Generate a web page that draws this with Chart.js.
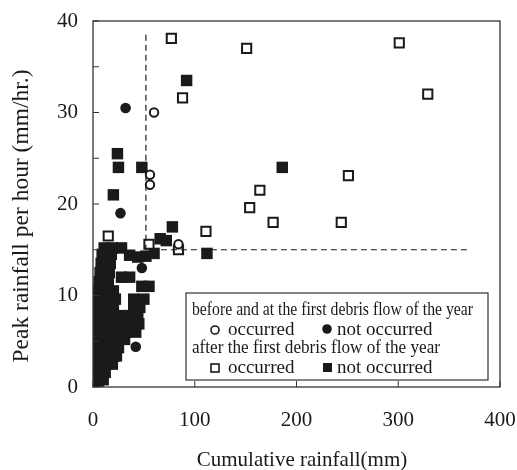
<!DOCTYPE html>
<html>
<head>
<meta charset="utf-8">
<script src="https://cdn.jsdelivr.net/npm/chart.js@4/dist/chart.umd.min.js"></script>
<style>
html,body{margin:0;padding:0;background:#fff;}
#wrap{width:517px;height:470px;}
</style>
</head>
<body>
<div id="wrap"><canvas id="c" width="517" height="470"></canvas></div>
<script>
// Axis ticks
const xTicks = [0, 100, 200, 300, 400];
const yTicks = [0, 10, 20, 30, 40];

// Before and at the first debris flow of the year
const beforeOccurred = [
  {x: 60, y: 30.0}, {x: 56, y: 23.2}, {x: 56, y: 22.1}, {x: 84, y: 15.6}
];
const beforeNotOccurred = [
  {x: 32, y: 30.5}, {x: 27, y: 19.0}, {x: 48, y: 13.0}, {x: 42, y: 4.4}
];

// After the first debris flow of the year
const afterOccurred = [
  {x: 77, y: 38.1}, {x: 151, y: 37.0}, {x: 88, y: 31.6}, {x: 301, y: 37.6},
  {x: 329, y: 32.0}, {x: 251, y: 23.1}, {x: 164, y: 21.5}, {x: 154, y: 19.6},
  {x: 177, y: 18.0}, {x: 244, y: 18.0}, {x: 111, y: 17.0}, {x: 15, y: 16.5},
  {x: 84, y: 15.0}, {x: 55, y: 15.6}
];
const afterNotOccurred = [
  {x: 92, y: 33.5}, {x: 24, y: 25.5}, {x: 25, y: 24.0}, {x: 48, y: 24.0},
  {x: 20, y: 21.0}, {x: 78, y: 17.5}, {x: 186, y: 24.0}, {x: 112, y: 14.6},
  {x: 66, y: 16.2}, {x: 72, y: 16.0},
  {x: 11, y: 15.2}, {x: 19, y: 15.2}, {x: 28, y: 15.2},
  {x: 9, y: 14.5}, {x: 18, y: 14.5}, {x: 36, y: 14.4}, {x: 44, y: 14.2}, {x: 52, y: 14.3}, {x: 60, y: 14.6},
  {x: 8, y: 13.5}, {x: 17, y: 13.5},
  {x: 7, y: 12.5}, {x: 16, y: 12.5}, {x: 28, y: 12.0}, {x: 36, y: 12.0},
  {x: 6, y: 11.5}, {x: 15, y: 11.5},
  {x: 48, y: 11.0}, {x: 55, y: 11.0},
  {x: 5, y: 10.5}, {x: 14, y: 10.5}, {x: 20, y: 10.5},
  {x: 4, y: 9.6}, {x: 12, y: 9.6}, {x: 22, y: 9.6}, {x: 40, y: 9.6}, {x: 50, y: 9.6},
  {x: 3, y: 8.7}, {x: 11, y: 8.7}, {x: 20, y: 8.7}, {x: 40, y: 8.7}, {x: 46, y: 8.7},
  {x: 3, y: 7.8}, {x: 10, y: 7.8}, {x: 18, y: 7.8}, {x: 27, y: 7.8}, {x: 36, y: 7.8}, {x: 44, y: 7.8},
  {x: 2, y: 6.9}, {x: 10, y: 6.9}, {x: 18, y: 6.9}, {x: 26, y: 6.9}, {x: 34, y: 6.9}, {x: 45, y: 6.9},
  {x: 2, y: 6.0}, {x: 9, y: 6.0}, {x: 17, y: 6.0}, {x: 25, y: 6.0}, {x: 33, y: 6.0}, {x: 42, y: 6.0},
  {x: 2, y: 5.2}, {x: 9, y: 5.2}, {x: 16, y: 5.2}, {x: 24, y: 5.2}, {x: 31, y: 5.2},
  {x: 1.5, y: 4.3}, {x: 8, y: 4.3}, {x: 15, y: 4.3}, {x: 22, y: 4.3}, {x: 25, y: 4.3},
  {x: 1.5, y: 3.4}, {x: 8, y: 3.4}, {x: 14, y: 3.4}, {x: 21, y: 3.4}, {x: 23, y: 3.4},
  {x: 1, y: 2.5}, {x: 7, y: 2.5}, {x: 13, y: 2.5}, {x: 19, y: 2.5},
  {x: 1, y: 1.6}, {x: 6, y: 1.6}, {x: 12, y: 1.6},
  {x: 1, y: 0.8}, {x: 6, y: 0.8}, {x: 10, y: 0.8},
  {x: 1, y: 0.2}, {x: 5, y: 0.2}
];

// Threshold dashed lines (cumulative 52 mm, peak 15 mm/hr)
const thresholdX = 52;
const thresholdY = 15;
const thresholdXTop = 38.5;
const thresholdYEnd = 370;

const legendLines = [
  'before and at the first debris flow of the year',
  'occurred', 'not occurred',
  'after the first debris flow of the year',
  'occurred', 'not occurred'
];
const xTitle = 'Cumulative rainfall(mm)';
const yTitle = 'Peak rainfall per hour (mm/hr.)';

const INK = '#1a1a1a';
const SERIF = '"Liberation Serif", "DejaVu Serif", serif';

const decor = {
  id: 'decor',
  afterDraw(chart) {
    const ctx = chart.ctx;
    const a = chart.chartArea;
    const xs = chart.scales.x, ys = chart.scales.y;
    ctx.save();
    // frame
    ctx.strokeStyle = '#333';
    ctx.lineWidth = 1.3;
    ctx.strokeRect(a.left, a.top, a.right - a.left, a.bottom - a.top);
    // inward ticks
    ctx.lineWidth = 1;
    ys.ticks.forEach(t => {
      const p = ys.getPixelForValue(t.value);
      ctx.beginPath(); ctx.moveTo(a.left, p); ctx.lineTo(a.left + 6, p); ctx.stroke();
    });
    xs.ticks.forEach(t => {
      const p = xs.getPixelForValue(t.value);
      ctx.beginPath(); ctx.moveTo(p, a.bottom); ctx.lineTo(p, a.bottom - 6); ctx.stroke();
    });
    // dashed threshold lines
    ctx.strokeStyle = INK;
    ctx.lineWidth = 1.2;
    ctx.setLineDash([6, 4]);
    const px = xs.getPixelForValue(thresholdX);
    const py = ys.getPixelForValue(thresholdY);
    ctx.beginPath();
    ctx.moveTo(px, ys.getPixelForValue(thresholdXTop));
    ctx.lineTo(px, py);
    ctx.lineTo(xs.getPixelForValue(thresholdYEnd), py);
    ctx.stroke();
    ctx.setLineDash([]);

    // legend box
    const L = 186, T = 293, R = 488, B = 380;
    ctx.fillStyle = '#fff';
    ctx.fillRect(L, T, R - L, B - T);
    ctx.strokeStyle = '#333';
    ctx.lineWidth = 1.2;
    ctx.strokeRect(L, T, R - L, B - T);
    ctx.fillStyle = INK;
    ctx.textBaseline = 'middle';
    ctx.textAlign = 'left';
    function fitText(s, x, y, size, w) {
      ctx.font = size + 'px ' + SERIF;
      const m = ctx.measureText(s).width;
      ctx.save();
      ctx.translate(x, y);
      ctx.scale(w / m, 1);
      ctx.fillText(s, 0, 0);
      ctx.restore();
    }
    fitText(legendLines[0], 192, 310, 18, 281);
    fitText(legendLines[3], 192, 348, 18, 248);
    ctx.font = '19px ' + SERIF;
    ctx.fillText(legendLines[1], 228, 330);
    ctx.fillText(legendLines[2], 337, 330);
    ctx.fillText(legendLines[4], 228, 368);
    ctx.fillText(legendLines[5], 337, 368);
    // legend markers
    ctx.lineWidth = 1.6;
    ctx.strokeStyle = INK;
    ctx.beginPath(); ctx.arc(215, 330, 4, 0, Math.PI * 2); ctx.stroke();
    ctx.beginPath(); ctx.arc(327, 329, 4.8, 0, Math.PI * 2); ctx.fill();
    ctx.strokeRect(211, 364, 8, 8);
    ctx.fillRect(323, 363, 9, 9);

    // axis titles
    ctx.fillStyle = INK;
    ctx.textAlign = 'center';
    ctx.textBaseline = 'middle';
    ctx.font = '21px ' + SERIF;
    ctx.fillText(xTitle, 302, 460);
    ctx.save();
    ctx.translate(22, 216);
    ctx.rotate(-Math.PI / 2);
    ctx.font = '23.5px ' + SERIF;
    ctx.fillText(yTitle, 0, 0);
    ctx.restore();
    ctx.restore();
  }
};

new Chart(document.getElementById('c'), {
  type: 'scatter',
  data: {
    datasets: [
      {label: 'before occurred', data: beforeOccurred, pointStyle: 'circle', pointRadius: 4.2,
       backgroundColor: '#fff', borderColor: INK, borderWidth: 2},
      {label: 'after occurred', data: afterOccurred, pointStyle: 'rect', pointRadius: 6.5,
       backgroundColor: '#fff', borderColor: INK, borderWidth: 2},
      {label: 'before not occurred', data: beforeNotOccurred, pointStyle: 'circle', pointRadius: 5.3,
       backgroundColor: INK, borderColor: INK, borderWidth: 0},
      {label: 'after not occurred', data: afterNotOccurred, pointStyle: 'rect', pointRadius: 8.1,
       backgroundColor: INK, borderColor: INK, borderWidth: 0}
    ]
  },
  options: {
    responsive: false,
    animation: false,
    devicePixelRatio: 1,
    layout: {padding: {left: 0, right: 17, top: 21, bottom: 0}},
    plugins: {legend: {display: false}, tooltip: {enabled: false}},
    scales: {
      x: {
        type: 'linear', min: 0, max: 400,
        afterBuildTicks(s) { s.ticks = xTicks.map(v => ({value: v})); },
        ticks: {font: {family: SERIF, size: 21}, color: INK, padding: 21, maxRotation: 0},
        grid: {display: false, drawTicks: false},
        border: {display: false},
        afterFit(s) { s.height = 83; s.paddingLeft = 0; s.paddingRight = 0; }
      },
      y: {
        type: 'linear', min: 0, max: 40,
        ticks: {stepSize: 5, font: {family: SERIF, size: 21}, color: INK, padding: 15,
          callback: v => yTicks.includes(v) ? String(v) : ''},
        grid: {display: false, drawTicks: false},
        border: {display: false},
        afterFit(s) { s.width = 93; s.paddingTop = 0; s.paddingBottom = 0; }
      }
    }
  },
  plugins: [decor]
});
</script>
</body>
</html>
